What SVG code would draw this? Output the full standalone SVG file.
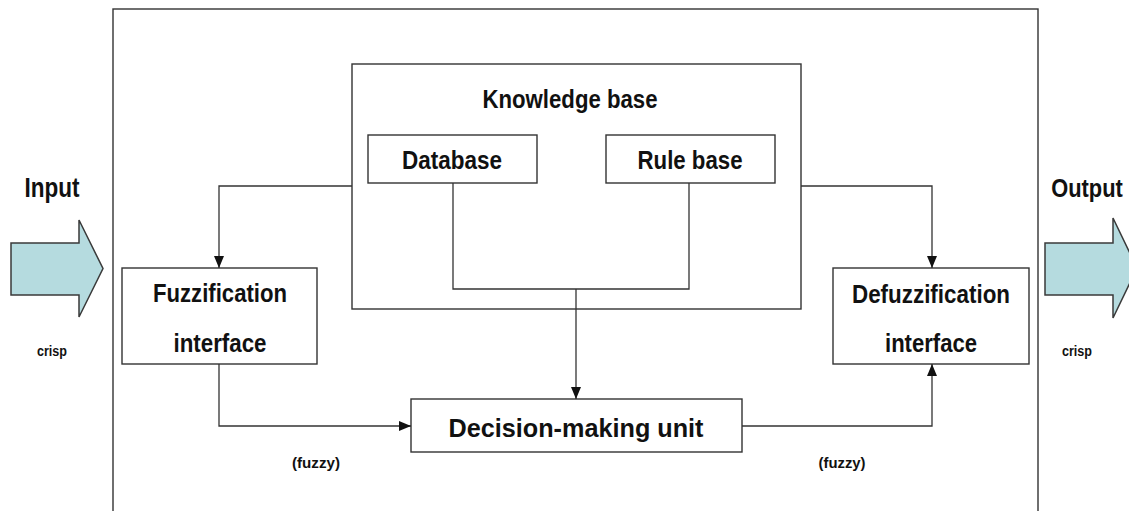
<svg xmlns="http://www.w3.org/2000/svg" width="1129" height="511" viewBox="0 0 1129 511">
  <style>
    .box { fill: #ffffff; stroke: #333333; stroke-width: 1.4; }
    .wire { fill: none; stroke: #333333; stroke-width: 1.3; }
    .big { fill: #111111; stroke: none; font-family: "Liberation Sans", Arial, sans-serif; font-weight: bold; text-anchor: middle; }
    .small { fill: #111111; font-family: "Liberation Sans", Arial, sans-serif; font-weight: bold; text-anchor: middle; font-size: 14px; }
    .flow { fill: #b5dbdf; stroke: #3a3a3a; stroke-width: 1.5; stroke-linejoin: miter; }
  </style>
  <defs>
    <marker id="head" markerUnits="userSpaceOnUse" markerWidth="12" markerHeight="12" viewBox="0 0 12 10" refX="12" refY="5" orient="auto">
      <path d="M0,0 L12,5 L0,10 Z" fill="#111111"/>
    </marker>
  </defs>

  <rect width="1129" height="511" fill="#ffffff"/>

  <!-- system boundary -->
  <g id="system">
    <rect class="box" x="113" y="9" width="925" height="520"/>
  </g>

  <!-- crisp input / output block arrows -->
  <g id="input">
    <text class="big" x="52" y="197" font-size="27" textLength="55" lengthAdjust="spacingAndGlyphs">Input</text>
    <path class="flow" d="M11,243 L79,243 L79,220 L103,268.5 L79,317 L79,295 L11,295 Z"/>
    <text class="small" x="52" y="356" textLength="30" lengthAdjust="spacingAndGlyphs">crisp</text>
  </g>
  <g id="output">
    <text class="big" x="0" y="0" font-size="23" transform="translate(1087,197) scale(0.95,1.15)">Output</text>
    <path class="flow" d="M1045,243 L1113,243 L1113,218 L1137,268 L1113,318 L1113,295 L1045,295 Z"/>
    <text class="small" x="1077" y="356" textLength="30" lengthAdjust="spacingAndGlyphs">crisp</text>
  </g>

  <!-- knowledge base with its two stores -->
  <g id="knowledge-base">
    <rect class="box" x="352" y="64" width="449" height="245"/>
    <text class="big" x="570" y="108" font-size="25" textLength="175" lengthAdjust="spacingAndGlyphs">Knowledge base</text>
  </g>
  <g id="database">
    <rect class="box" x="368" y="135" width="169" height="48"/>
    <text class="big" x="452" y="169" font-size="25" textLength="100" lengthAdjust="spacingAndGlyphs">Database</text>
  </g>
  <g id="rule-base">
    <rect class="box" x="606" y="135" width="169" height="48"/>
    <text class="big" x="690" y="169" font-size="25" textLength="105" lengthAdjust="spacingAndGlyphs">Rule base</text>
  </g>

  <g id="fuzzification">
    <rect class="box" x="122" y="268" width="195" height="96"/>
    <text class="big" x="220" y="302" font-size="25" textLength="134" lengthAdjust="spacingAndGlyphs">Fuzzification</text>
    <text class="big" x="220" y="352" font-size="25" textLength="93" lengthAdjust="spacingAndGlyphs">interface</text>
  </g>
  <g id="defuzzification">
    <rect class="box" x="833" y="268" width="196" height="96"/>
    <text class="big" x="931" y="303" font-size="25" textLength="158" lengthAdjust="spacingAndGlyphs">Defuzzification</text>
    <text class="big" x="931" y="352" font-size="25" textLength="92" lengthAdjust="spacingAndGlyphs">interface</text>
  </g>
  <g id="decision">
    <rect class="box" x="411" y="399" width="331" height="53"/>
    <text class="big" x="576" y="437" font-size="26" textLength="255" lengthAdjust="spacingAndGlyphs">Decision-making unit</text>
  </g>

  <g id="labels">
    <text class="small" x="316" y="468" textLength="48" lengthAdjust="spacingAndGlyphs">(fuzzy)</text>
    <text class="small" x="842" y="468" textLength="47" lengthAdjust="spacingAndGlyphs">(fuzzy)</text>
  </g>

  <!-- connectors -->
  <g id="connectors">
    <path class="wire" d="M352,186 H219 V268" marker-end="url(#head)"/>
    <path class="wire" d="M801,186 H932 V268" marker-end="url(#head)"/>
    <path class="wire" d="M453,183 V289 H689 V183"/>
    <path class="wire" d="M576,289 V399" marker-end="url(#head)"/>
    <path class="wire" d="M219,364 V426 H411" marker-end="url(#head)"/>
    <path class="wire" d="M742,426 H932 V364" marker-end="url(#head)"/>
  </g>
</svg>
